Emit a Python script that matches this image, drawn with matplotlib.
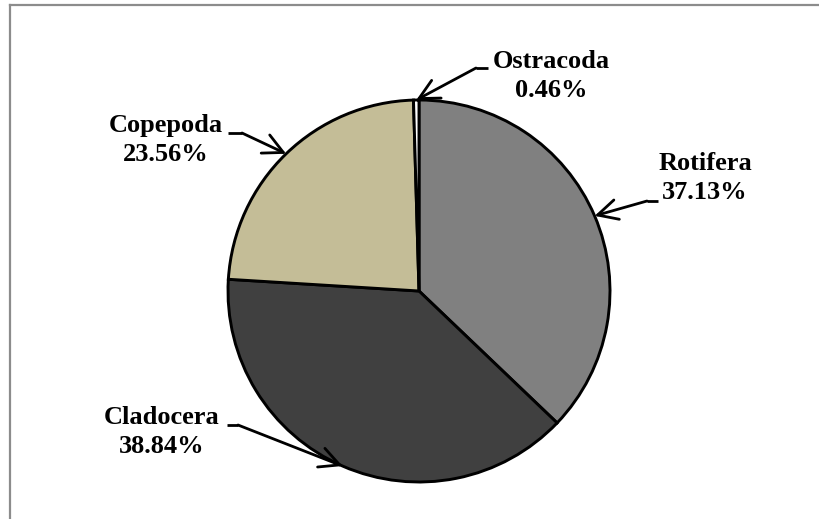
import numpy as np
import matplotlib
matplotlib.use("Agg")
import matplotlib.pyplot as plt
from matplotlib.lines import Line2D

categories = ["Rotifera", "Cladocera", "Copepoda", "Ostracoda"]
values = [37.13, 38.84, 23.56, 0.46]
colors = ["#808080", "#404040", "#C4BD97", "#FFFFFF"]

W, H = 820, 519
fig = plt.figure(figsize=(W / 100, H / 100), dpi=100)
ax = fig.add_axes([0, 0, 1, 1])

def Y(y):
    return H - y

cx, cy, R = 419, 291, 191
wedges, _ = ax.pie(values, colors=colors, startangle=90, counterclock=False,
                   center=(cx, Y(cy)), radius=R, frame=True,
                   wedgeprops=dict(edgecolor="black", linewidth=2.1))
ax.set_xlim(0, W)
ax.set_ylim(0, H)
ax.set_aspect("equal")
ax.axis("off")

# label layout: (text center x, center y of first line) and knee (x_start, x_end, y)
label_pos = {
    "Rotifera": (705, 163),
    "Cladocera": (162, 417),
    "Copepoda": (166, 125),
    "Ostracoda": (551, 61),
}
knees = {
    "Rotifera": (658, 647, 201),
    "Cladocera": (227, 238, 425),
    "Copepoda": (228, 242, 133),
    "Ostracoda": (488, 476, 68),
}

font = dict(family=["Liberation Serif", "DejaVu Serif"], fontweight="bold", fontsize=19)

for w, name, v in zip(wedges, categories, values):
    lx, ly = label_pos[name]
    ax.text(lx, Y(ly + 15), f"{name}\n{v:.2f}%", ha="center", va="center",
            multialignment="center", linespacing=1.36, **font)
    theta = np.deg2rad((w.theta1 + w.theta2) / 2)
    tx = cx + R * np.cos(theta)
    ty = Y(cy) + R * np.sin(theta)
    x0, x1, ky = knees[name]
    ax.plot([x0, x1], [Y(ky), Y(ky)], color="black", lw=2.0, solid_capstyle="butt")
    ax.annotate("", xy=(tx, ty), xytext=(x1, Y(ky)),
                arrowprops=dict(arrowstyle="->,head_length=0.75,head_width=0.38",
                                color="black", lw=2.0, shrinkA=0, shrinkB=0,
                                mutation_scale=19))

# outer frame (gray, top and left visible)
fig.add_artist(Line2D([10.5 / W, 1], [1 - 5 / H, 1 - 5 / H], color="#8c8c8c", lw=1.6,
                      transform=fig.transFigure))
fig.add_artist(Line2D([10.5 / W, 10.5 / W], [0, 1 - 5 / H], color="#8c8c8c", lw=1.6,
                      transform=fig.transFigure))

fig.savefig("out.png", dpi=100)
